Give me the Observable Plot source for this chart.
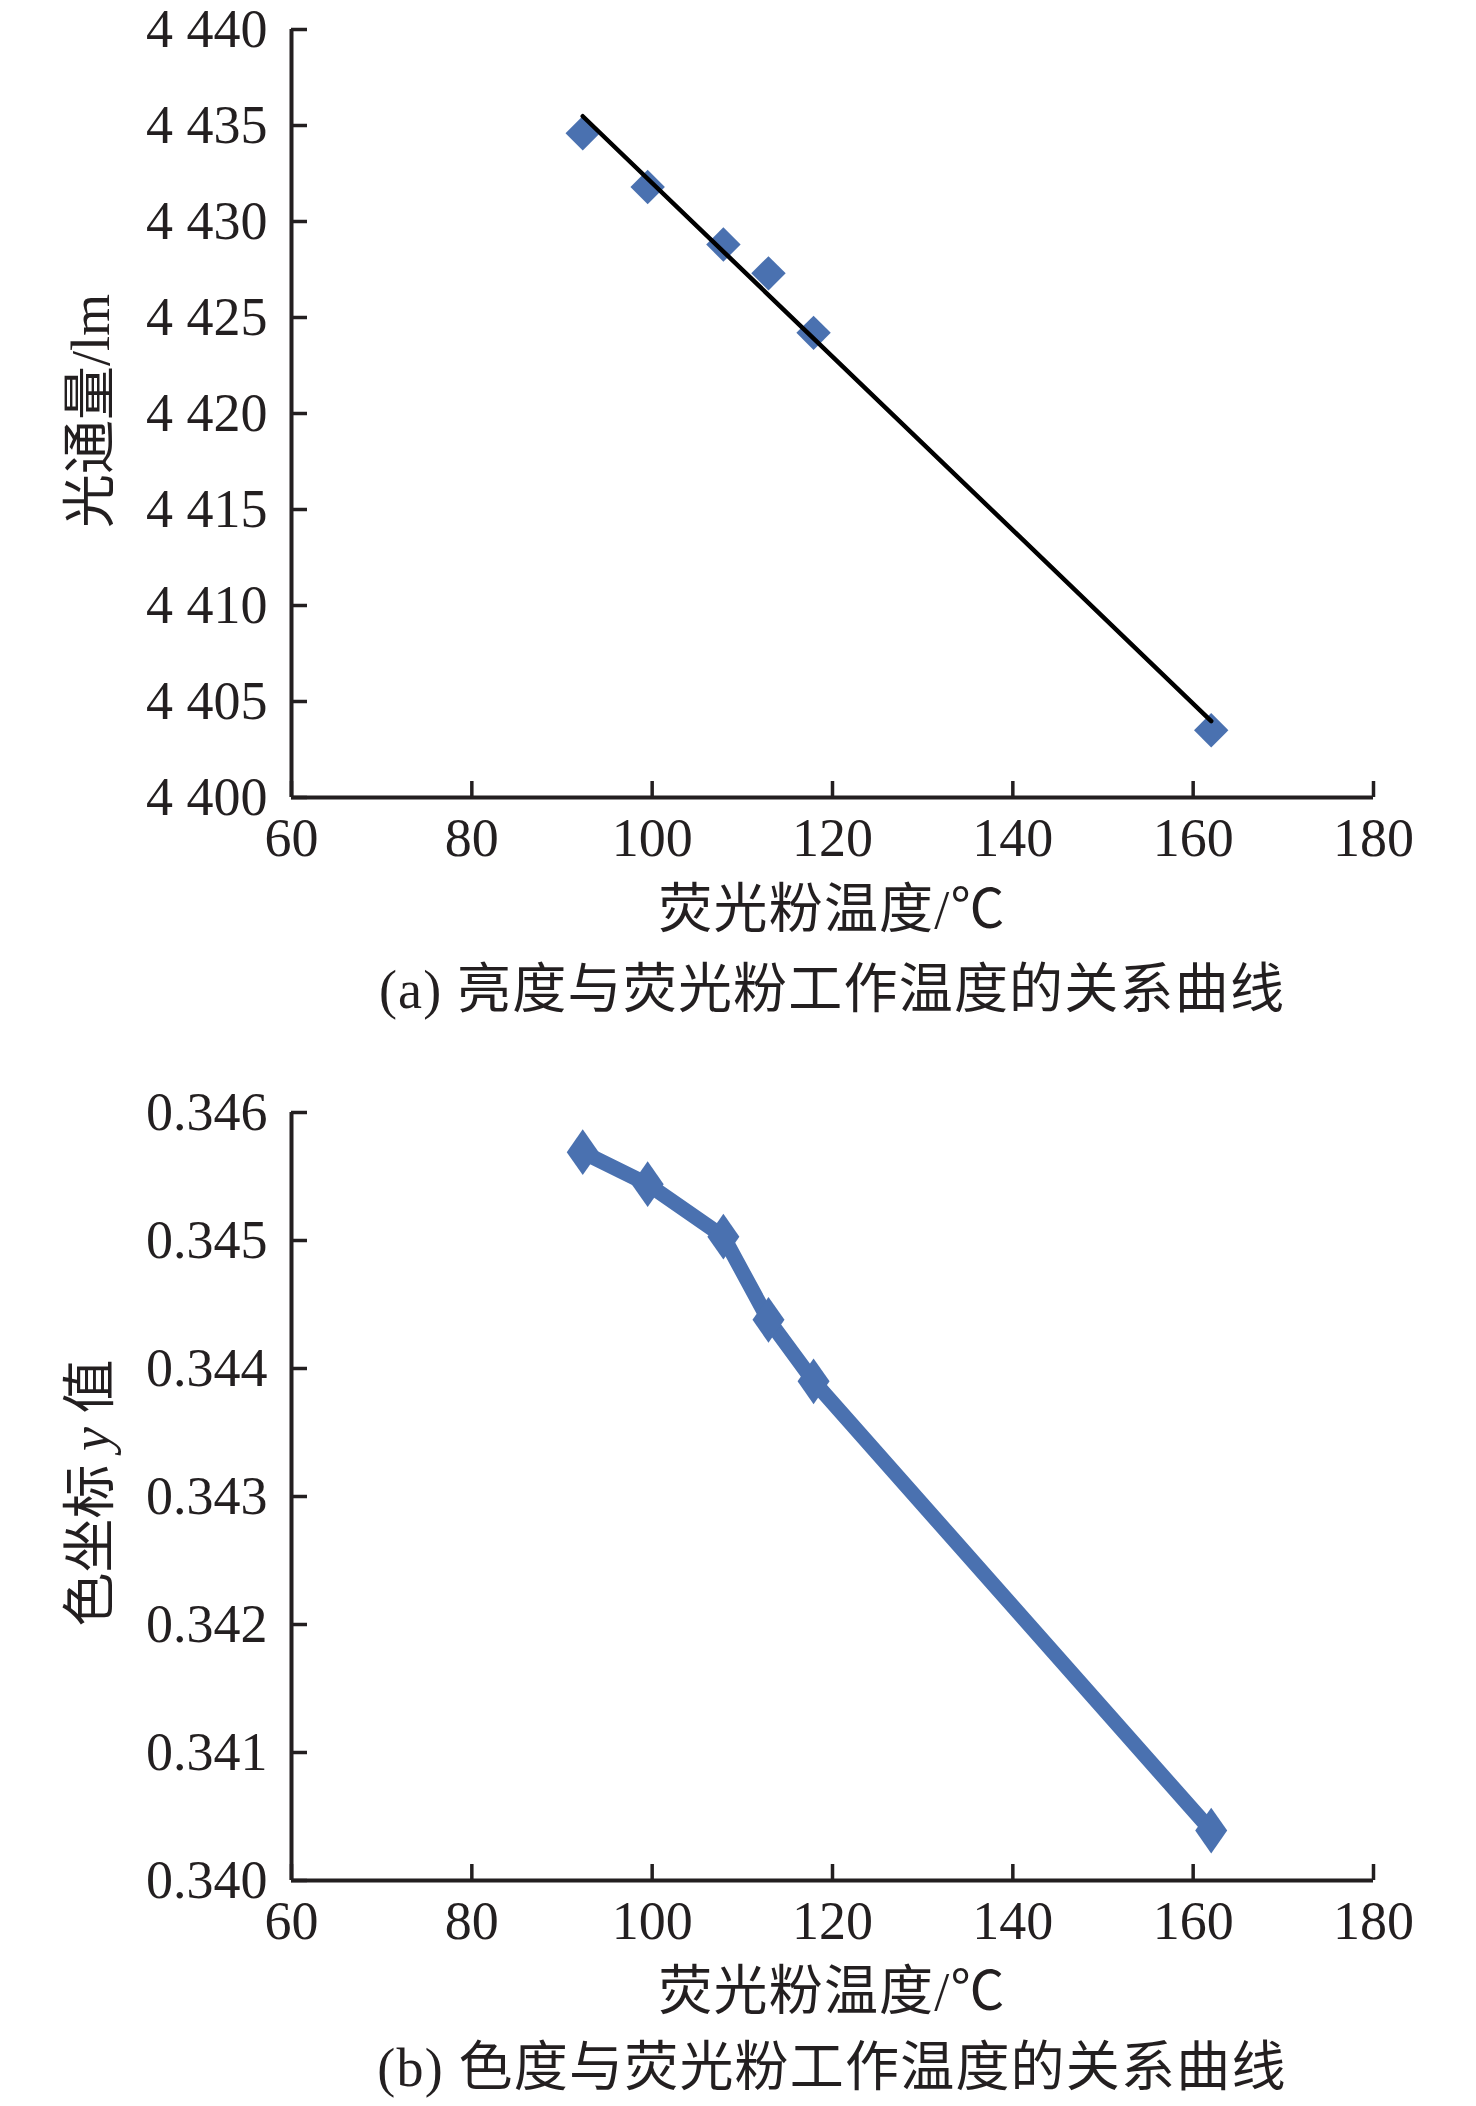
<!DOCTYPE html>
<html><head><meta charset="utf-8">
<script src="https://cdn.jsdelivr.net/npm/d3@7"></script>
<script src="https://cdn.jsdelivr.net/npm/@observablehq/plot@0.6"></script>
<style>
body{margin:0;background:#fff;}
#wrap{position:relative;width:1476px;height:2106px;font-family:"Liberation Serif","Noto Sans CJK SC",serif;color:#231f20;overflow:hidden;}
.cap{position:absolute;left:291px;width:1082px;text-align:center;font-size:54px;line-height:64px;height:64px;white-space:nowrap;letter-spacing:1.2px;}
.ylab{position:absolute;font-size:54px;line-height:64px;white-space:nowrap;transform:translate(-50%,-50%) rotate(-90deg);}
.chart{position:absolute;left:0;}
</style></head><body><div id="wrap"></div>
<script>
// ---- data ----
const temperature = [92.3, 99.5, 107.9, 112.9, 117.9, 162.0];          // 荧光粉温度 /℃
const luminousFlux = [4434.6, 4431.8, 4428.8, 4427.3, 4424.2, 4403.5];  // 光通量 /lm
const chromaY = [0.34569, 0.34544, 0.34503, 0.34438, 0.34390, 0.34039]; // 色坐标 y 值
const xTicks = [60, 80, 100, 120, 140, 160, 180];
const fluxTicks = [4400, 4405, 4410, 4415, 4420, 4425, 4430, 4435, 4440];
const chromaTicks = [0.340, 0.341, 0.342, 0.343, 0.344, 0.345, 0.346];
const xLabel = "荧光粉温度/℃";
const yLabelA = "光通量/lm";
const yLabelBParts = ["色坐标 ", "y", " 值"];
const captionA = "(a) 亮度与荧光粉工作温度的关系曲线";
const captionB = "(b) 色度与荧光粉工作温度的关系曲线";

const ink = "#231f20";
const blue = "#4a71b0";
const font = "'Liberation Serif','Noto Sans CJK SC',serif";

const rowsA = temperature.map((t, i) => ({t, v: luminousFlux[i]}));
const rowsB = temperature.map((t, i) => ({t, v: chromaY[i]}));

const fmtFlux = d => d3.format(",")(d).replace(",", " ");
const fmtChroma = d3.format(".3f");

const tallDiamond = {
  draw(ctx, size) {
    const w = Math.sqrt(size / Math.PI), h = w * 1.43;
    ctx.moveTo(0, -h); ctx.lineTo(w, 0); ctx.lineTo(0, h); ctx.lineTo(-w, 0); ctx.closePath();
  }
};

function chart(yTicks, yFormat, marginTop, dataMarks) {
  return Plot.plot({
    width: 1476,
    height: marginTop + 768 + 160,
    marginLeft: 291, marginRight: 103, marginTop, marginBottom: 160,
    style: {fontFamily: font, fontSize: "54px", color: ink, background: "transparent", overflow: "visible"},
    x: {domain: [xTicks[0], xTicks[xTicks.length - 1]]},
    y: {domain: [yTicks[0], yTicks[yTicks.length - 1]]},
    marks: [
      Plot.axisX({ticks: xTicks, tickSize: 0, tickPadding: 20, label: null, fontSize: 54, fill: ink}),
      Plot.axisX({ticks: xTicks, tickSize: -16, tickFormat: () => "", label: null, stroke: ink, strokeWidth: 3.5}),
      Plot.axisY({ticks: yTicks, tickFormat: yFormat, tickSize: 0, tickPadding: 24, label: null, fontSize: 54, fill: ink}),
      Plot.axisY({ticks: yTicks, tickSize: -16, tickFormat: () => "", label: null, stroke: ink, strokeWidth: 3.5}),
      Plot.ruleX([xTicks[0]], {stroke: ink, strokeWidth: 4}),
      Plot.ruleY([yTicks[0]], {stroke: ink, strokeWidth: 4}),
      ...dataMarks
    ]
  });
}

const wrap = document.getElementById("wrap");

const svgA = chart(fluxTicks, fmtFlux, 29, [
  Plot.dot(rowsA, {x: "t", y: "v", symbol: "diamond2", r: 15.5, fill: blue, stroke: "none"}),
  Plot.linearRegressionY(rowsA, {x: "t", y: "v", ci: 0, stroke: "#000", strokeWidth: 4.5})
]);
svgA.classList.add("chart");
svgA.style.top = "0px";
wrap.appendChild(svgA);

const svgB = chart(chromaTicks, fmtChroma, 90, [
  Plot.line(rowsB, {x: "t", y: "v", stroke: blue, strokeWidth: 15, strokeLinejoin: "round"}),
  Plot.dot(rowsB, {x: "t", y: "v", symbol: tallDiamond, r: 16, fill: blue, stroke: "none"})
]);
svgB.classList.add("chart");
svgB.style.top = "1022px";
wrap.appendChild(svgB);

function addDiv(cls, top, html, left) {
  const d = document.createElement("div");
  d.className = cls;
  d.style.top = top + "px";
  if (left !== undefined) d.style.left = left + "px";
  d.innerHTML = html;
  wrap.appendChild(d);
}
addDiv("cap", 878, xLabel);
addDiv("cap", 958, captionA);
addDiv("cap", 1960, xLabel);
addDiv("cap", 2036, captionB);
addDiv("ylab", 411, yLabelA, 91);
addDiv("ylab", 1493, yLabelBParts[0] + "<i>" + yLabelBParts[1] + "</i>" + yLabelBParts[2], 91);
</script></body></html>
